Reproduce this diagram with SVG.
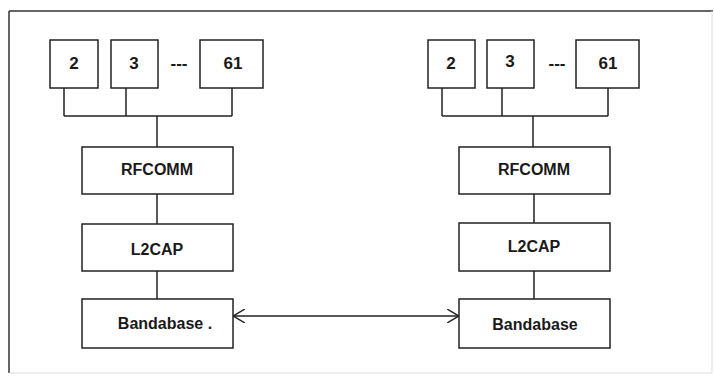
<svg xmlns="http://www.w3.org/2000/svg" width="714" height="377" viewBox="0 0 714 377">
<defs>
<style>
.box{fill:#fff;stroke:#222;stroke-width:1.5}
.t{font-family:"Liberation Sans",Arial,sans-serif;font-weight:bold;font-size:16px;fill:#1a1a1a;text-anchor:middle}
.n{font-size:17px}
.c{fill:none;stroke:#222;stroke-width:1.5}
</style>
<marker id="ah" viewBox="0 0 12 14" refX="12" refY="7" markerWidth="12" markerHeight="14" markerUnits="userSpaceOnUse" orient="auto-start-reverse">
<path d="M0,0 L12,7 L0,14" fill="none" stroke="#222" stroke-width="1.5"/>
</marker>
</defs>
<rect width="714" height="377" fill="#fff"/>
<g id="frame">
<line x1="9" y1="11" x2="713" y2="11" stroke="#333" stroke-width="1.5"/>
<line x1="9" y1="11" x2="9" y2="373" stroke="#333" stroke-width="1.5"/>
<line x1="712" y1="11" x2="712" y2="373" stroke="#ddd" stroke-width="1"/>
<line x1="9" y1="373" x2="712" y2="373" stroke="#ddd" stroke-width="1"/>
</g>
<g id="connectors">
<path class="c" d="M64,88 V116 M126,88 V116 M232,88 V116 M64,116 H232 M157,116 V147"/>
<path class="c" d="M157,194 V224 M157,271 V299"/>
<path class="c" d="M442,88 V116 M502,88 V116 M608,88 V116 M442,116 H608 M533,116 V147"/>
<path class="c" d="M534,194 V223 M534,271 V299"/>
<line class="c" x1="233" y1="316" x2="459" y2="316" marker-start="url(#ah)" marker-end="url(#ah)"/>
</g>
<g id="l-2"><rect class="box" x="50" y="40" width="48" height="48"/><text class="t n" x="74" y="69">2</text></g>
<g id="l-3"><rect class="box" x="111" y="40" width="47" height="48"/><text class="t n" x="134" y="69">3</text></g>
<g id="l-dots"><text class="t n" x="179" y="69">---</text></g>
<g id="l-61"><rect class="box" x="200" y="40" width="63" height="48"/><text class="t n" x="233" y="69">61</text></g>
<g id="l-rfcomm"><rect class="box" x="82" y="147" width="151" height="47"/><text class="t" x="157" y="175">RFCOMM</text></g>
<g id="l-l2cap"><rect class="box" x="82" y="224" width="151" height="47"/><text class="t" x="157" y="255">L2CAP</text></g>
<g id="l-band"><rect class="box" x="82" y="299" width="151" height="49"/><text class="t" x="165" y="329">Bandabase .</text></g>
<g id="r-2"><rect class="box" x="428" y="40" width="47" height="48"/><text class="t n" x="451" y="69">2</text></g>
<g id="r-3"><rect class="box" x="487" y="40" width="47" height="48"/><text class="t n" x="510" y="67">3</text></g>
<g id="r-dots"><text class="t n" x="557" y="69">---</text></g>
<g id="r-61"><rect class="box" x="576" y="40" width="63" height="48"/><text class="t n" x="608" y="69">61</text></g>
<g id="r-rfcomm"><rect class="box" x="459" y="147" width="151" height="47"/><text class="t" x="534" y="175">RFCOMM</text></g>
<g id="r-l2cap"><rect class="box" x="459" y="223" width="151" height="48"/><text class="t" x="534" y="252">L2CAP</text></g>
<g id="r-band"><rect class="box" x="459" y="299" width="151" height="49"/><text class="t" x="535" y="330">Bandabase</text></g>
</svg>
